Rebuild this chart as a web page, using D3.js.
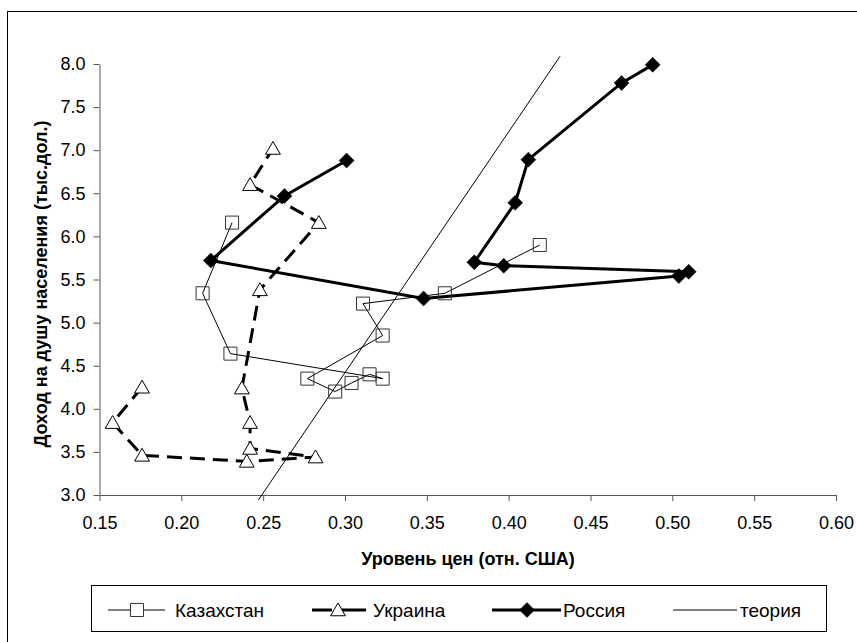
<!DOCTYPE html>
<html><head><meta charset="utf-8">
<script src="https://cdn.jsdelivr.net/npm/d3@7"></script>
<style>body{margin:0;background:#fff}svg{display:block;font-family:"Liberation Sans",Arial,sans-serif}</style>
</head><body><svg id="c" width="857" height="642"></svg>
<script>
const kazX=[0.231,0.213,0.230,0.323,0.315,0.304,0.294,0.277,0.323,0.311,0.361,0.419];
const kazY=[6.16,5.34,4.64,4.35,4.40,4.30,4.20,4.35,4.85,5.22,5.34,5.90];
const ukrX=[0.176,0.158,0.176,0.240,0.282,0.242,0.242,0.237,0.248,0.284,0.242,0.256];
const ukrY=[4.25,3.84,3.46,3.39,3.44,3.54,3.84,4.24,5.38,6.16,6.60,7.02];
const rusX=[0.301,0.263,0.218,0.348,0.504,0.510,0.397,0.379,0.404,0.412,0.469,0.488];
const rusY=[6.88,6.47,5.72,5.28,5.54,5.59,5.66,5.70,6.39,6.89,7.78,7.99];
const theoryX=[0.247,0.4314];
const theoryY=[2.94,8.09];
const xTicks=[0.15,0.20,0.25,0.30,0.35,0.40,0.45,0.50,0.55,0.60];
const yTicks=[3.0,3.5,4.0,4.5,5.0,5.5,6.0,6.5,7.0,7.5,8.0];
const seriesNames=["Казахстан","Украина","Россия","теория"];
const xTitle="Уровень цен (отн. США)";
const yTitle="Доход на душу населения (тыс.дол.)";

const svg=d3.select("#c");
const L=99.5,R=836,T=64,B=495;
const x=d3.scaleLinear().domain([0.15,0.60]).range([L,R]);
const y=d3.scaleLinear().domain([3,8]).range([B,T]);

svg.append("rect").attr("x",7.5).attr("y",11.5).attr("width",870).attr("height",660)
  .attr("fill","#fff").attr("stroke","#000").attr("stroke-width",1);

const xa=svg.append("g").attr("transform",`translate(0,${B})`)
  .call(d3.axisBottom(x).tickValues(xTicks).tickFormat(d3.format(".2f")).tickSizeOuter(0).tickSizeInner(6).tickPadding(15));
const ya=svg.append("g").attr("transform",`translate(${L},0)`)
  .call(d3.axisLeft(y).tickValues(yTicks).tickFormat(d3.format(".1f")).tickSizeOuter(0).tickSizeInner(6).tickPadding(8));
[xa,ya].forEach(a=>{a.selectAll("path,line").attr("stroke","#555");
  a.selectAll("text").attr("font-size",18).attr("fill","#000").attr("font-family","Liberation Sans, Arial, sans-serif");});

svg.append("text").attr("x",468).attr("y",565).attr("text-anchor","middle")
  .attr("font-weight","bold").attr("font-size",18).text(xTitle);
svg.append("text").attr("transform",`translate(47,284) rotate(-90)`).attr("text-anchor","middle")
  .attr("font-weight","bold").attr("font-size",18).text(yTitle);

const line=d3.line().x(d=>x(d[0])).y(d=>y(d[1]));
const zip=(a,b)=>a.map((v,i)=>[v,b[i]]);
const kaz=zip(kazX,kazY),ukr=zip(ukrX,ukrY),rus=zip(rusX,rusY),th=zip(theoryX,theoryY);

svg.append("path").attr("d",line(th)).attr("fill","none").attr("stroke","#000").attr("stroke-width",1);
svg.append("path").attr("d",line(kaz)).attr("fill","none").attr("stroke","#000").attr("stroke-width",1);
svg.append("path").attr("d",line(ukr)).attr("fill","none").attr("stroke","#000").attr("stroke-width",3).attr("stroke-dasharray","15,8");
svg.append("path").attr("d",line(rus)).attr("fill","none").attr("stroke","#000").attr("stroke-width",3);

const sq=d3.symbol().type(d3.symbolSquare).size(170);
const tri=d3.symbol().type(d3.symbolTriangle).size(95);
const dia=(s)=>`M0,${-s}L${s},0L0,${s}L${-s},0Z`;

function kazMark(g){g.attr("d",sq()).attr("fill","none").attr("stroke","#333").attr("stroke-width",1);}
function ukrMark(g){g.attr("d",tri()).attr("fill","#fff").attr("stroke","#000").attr("stroke-width",1);}
function rusMark(g){g.attr("d",dia(7.5)).attr("fill","#000").attr("stroke","#000").attr("stroke-width",0.5);}

svg.append("g").selectAll("path").data(kaz).join("path").attr("transform",d=>`translate(${x(d[0])},${y(d[1])})`).call(kazMark);
svg.append("g").selectAll("path").data(ukr).join("path").attr("transform",d=>`translate(${x(d[0])},${y(d[1])+1.5})`).call(ukrMark);
svg.append("g").selectAll("path").data(rus).join("path").attr("transform",d=>`translate(${x(d[0])},${y(d[1])})`).call(rusMark);

// legend
const lg=svg.append("g");
lg.append("rect").attr("x",91.5).attr("y",585.5).attr("width",735).attr("height",46).attr("fill","#fff").attr("stroke","#000");
const ly=610;
const items=[
 {x1:108,x2:165,m:137,t:175,w:1,dash:null,mark:kazMark},
 {x1:312,x2:366,m:338,t:373,w:3,dash:"20,6,30",mark:ukrMark},
 {x1:492,x2:561,m:527,t:563,w:3,dash:null,mark:rusMark},
 {x1:673,x2:737,m:null,t:740,w:1,dash:null,mark:null}];
items.forEach((it,i)=>{
  const ln=lg.append("line").attr("x1",it.x1).attr("x2",it.x2).attr("y1",ly).attr("y2",ly).attr("stroke","#000").attr("stroke-width",it.w);
  if(it.dash) ln.attr("stroke-dasharray",it.dash);
  if(it.mark){const p=lg.append("path").attr("transform",`translate(${it.m},${ly+(i==1?1.5:0)})`).call(it.mark); if(i==0)p.attr("fill","#fff");}
  lg.append("text").attr("x",it.t).attr("y",ly).attr("dy","0.35em").attr("font-size",19).text(seriesNames[i]);
});
</script></body></html>
